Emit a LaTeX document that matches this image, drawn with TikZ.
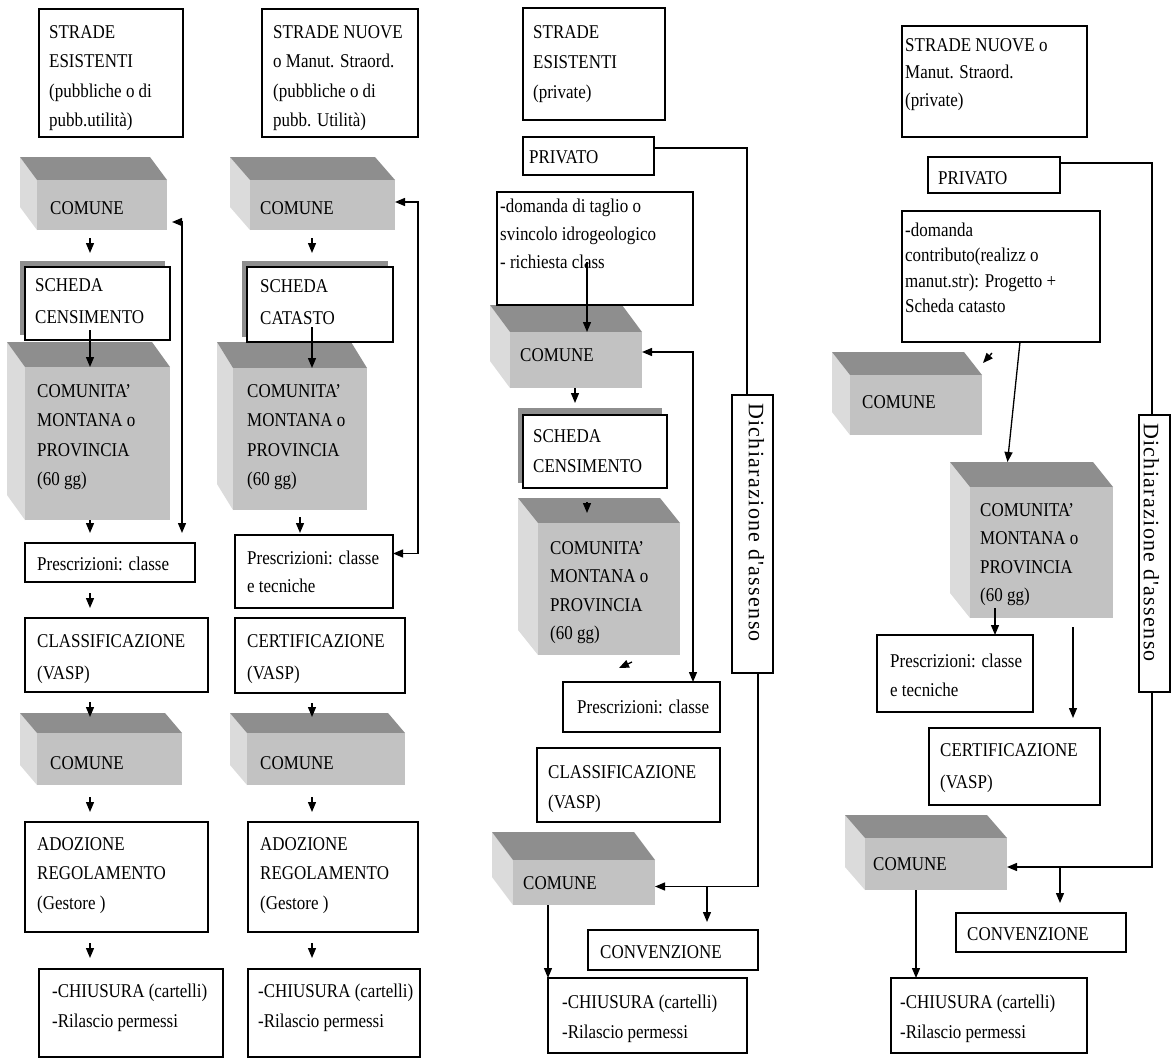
\documentclass[tikz,border=0pt]{standalone}
\usepackage{fontspec}
\setmainfont{Liberation Serif}[FakeStretch=0.87]
\newfontfamily\rotfont{Liberation Serif}[LetterSpace=6]
\usetikzlibrary{arrows.meta}
\definecolor{topgray}{RGB}{142,142,142}
\definecolor{frontgray}{RGB}{194,194,194}
\definecolor{sidegray}{RGB}{219,219,219}
\newcommand\cubebox[7]{%
 \fill[sidef] (#2,#3) -- ({#2+#6},{#3+#7}) -- ({#2+#6},#5) -- (#2,{#5-#7}) -- cycle;
 \fill[topf] (#2,#3) -- ({#4-#6},#3) -- (#4,{#3+#7}) -- ({#2+#6},{#3+#7}) -- cycle;
 \node[frontf, minimum width=#4pt-#2pt-#6pt, minimum height=#5pt-#3pt-#7pt] (#1) at ({#2+#6},{#3+#7}) {};
 \node[ghost, minimum width=#4pt-#2pt-#6pt, minimum height=#5pt-#3pt-#7pt] (#1-back) at (#2,#3) {};
}
\newcommand\bx[5]{\node[boxs, minimum width=#4pt, minimum height=#5pt] (#1) at (#2,#3) {};}
\newcommand\tx[6][]{\node[txt,#1] (#2) at ([xshift=#4pt,yshift=-#5pt]#3.north west) {#6};}
\begin{document}
\begin{tikzpicture}[x=1pt,y=-1pt,
  sidef/.style={fill=sidegray},
  topf/.style={fill=topgray},
  frontf/.style={anchor=north west, fill=frontgray, inner sep=0pt, outer sep=0pt},
  ghost/.style={anchor=north west, inner sep=0pt, outer sep=0pt},
  boxs/.style={anchor=north west, draw=black, line width=1.5pt, fill=white, inner sep=0pt, outer sep=0pt},
  txt/.style={anchor=north west, inner sep=0pt, align=left, font=\fontsize{19.5}{29.5}\selectfont},
  sp/.style={font=\fontsize{19.5}{#1}\selectfont},
  rot/.style={inner sep=0pt, rotate=-90, anchor=west, font=\rotfont\fontsize{22}{26}\selectfont},
  ln/.style={line width=1.3pt},
  arr/.style={line width=1.3pt, -{Triangle[length=10pt,width=8pt]}},
  arr2/.style={line width=1.3pt, {Triangle[length=10pt,width=8pt]}-{Triangle[length=10pt,width=8pt]}}]
\useasboundingbox (0,0) rectangle (1171,1060);
\fill[white] (0,0) rectangle (1171,1060);

% x positions of vertical connectors
\coordinate (ax1) at (90,0);   \coordinate (fb1) at (182,0);
\coordinate (ax2) at (312,0);  \coordinate (ax2b) at (300,0); \coordinate (fb2) at (418,0);
\coordinate (ax3a) at (587,0); \coordinate (ax3b) at (575,0); \coordinate (fb3) at (693,0);
\coordinate (v3a) at (747,0);  \coordinate (v3b) at (758,0);  \coordinate (v3c) at (707,0); \coordinate (v3d) at (548,0);
\coordinate (v4a) at (1152,0); \coordinate (v4b) at (1020,0); \coordinate (v4c) at (995,0);
\coordinate (v4d) at (1073,0); \coordinate (v4e) at (1060,0); \coordinate (v4f) at (916,0);

% ---------- 3D blocks ----------
\cubebox{c1}{20}{157}{167}{230}{17}{23}
\cubebox{m1}{7}{342}{170}{520}{18}{25}
\cubebox{c1b}{20}{713}{182}{785}{17}{20}
\cubebox{c2}{230}{157}{395}{230}{20}{23}
\cubebox{m2}{217}{342}{367}{510}{16}{26}
\cubebox{c2b}{230}{713}{405}{785}{17}{20}
\cubebox{c3}{490}{305}{642}{388}{20}{27}
\cubebox{m3}{518}{498}{680}{655}{20}{25}
\cubebox{c3b}{492}{832}{655}{905}{21}{28}
\cubebox{c4}{832}{352}{982}{435}{18}{23}
\cubebox{m4}{950}{462}{1113}{618}{20}{25}
\cubebox{c4b}{845}{815}{1007}{890}{20}{23}

% strips behind the SCHEDA boxes
\fill[topf] (20,261) rectangle (165,335);
\fill[topf] (242,261) rectangle (388,337);
\fill[topf] (518,408) rectangle (662,483);

% ---------- boxes ----------
\bx{t1}{39}{9}{144}{128}
\bx{s1}{25}{267}{145}{73}
\bx{p1}{25}{543}{170}{39}
\bx{k1}{25}{618}{183}{74}
\bx{a1}{25}{822}{183}{110}
\bx{h1}{39}{969}{184}{88}
\bx{t2}{262}{9}{156}{128}
\bx{s2}{247}{267}{146}{75}
\bx{p2}{235}{535}{158}{73}
\bx{k2}{235}{618}{170}{75}
\bx{a2}{248}{822}{170}{110}
\bx{h2}{248}{969}{172}{88}
\bx{t3}{523}{8}{142}{112}
\bx{pr3}{523}{137}{131}{38}
\bx{d3}{497}{192}{196}{113}
\bx{s3}{523}{415}{144}{73}
\bx{p3}{563}{682}{157}{50}
\bx{k3}{537}{748}{183}{74}
\bx{cv3}{588}{930}{170}{40}
\bx{h3}{548}{978}{199}{75}
\bx{dz3}{732}{395}{41}{278}
\bx{t4}{902}{26}{185}{111}
\bx{pr4}{928}{157}{132}{36}
\bx{d4}{902}{211}{198}{131}
\bx{p4}{877}{635}{156}{77}
\bx{k4}{929}{728}{171}{77}
\bx{cv4}{956}{913}{170}{39}
\bx{h4}{891}{978}{196}{75}
\bx{dz4}{1139}{415}{31}{277}

% ---------- texts ----------
\tx{t1-t}{t1}{10}{16}{STRADE\\ESISTENTI\\(pubbliche o di\\pubb.utilità)}
\tx{c1-t}{c1}{13}{21}{COMUNE}
\tx[sp=32]{s1-t}{s1}{10}{11}{SCHEDA\\CENSIMENTO}
\tx{m1-t}{m1}{12}{17}{COMUNITA'\\MONTANA o\\PROVINCIA\\(60 gg)}
\tx{p1-t}{p1}{12}{14}{Prescrizioni: classe}
\tx[sp=32]{k1-t}{k1}{12}{16}{CLASSIFICAZIONE\\(VASP)}
\tx{c1b-t}{c1b}{13}{23}{COMUNE}
\tx{a1-t}{a1}{12}{15}{ADOZIONE\\REGOLAMENTO\\(Gestore )}
\tx[sp=30]{h1-t}{h1}{13}{15}{-CHIUSURA (cartelli)\\-Rilascio permessi}

\tx{t2-t}{t2}{11}{16}{STRADE NUOVE\\o Manut. Straord.\\(pubbliche o di\\pubb. Utilità)}
\tx{c2-t}{c2}{10}{21}{COMUNE}
\tx[sp=32]{s2-t}{s2}{13}{12}{SCHEDA\\CATASTO}
\tx{m2-t}{m2}{14}{16}{COMUNITA'\\MONTANA o\\PROVINCIA\\(60 gg)}
\tx[sp=28]{p2-t}{p2}{12}{15.6}{Prescrizioni: classe\\e tecniche}
\tx[sp=32]{k2-t}{k2}{12}{16}{CERTIFICAZIONE\\(VASP)}
\tx{c2b-t}{c2b}{13}{23}{COMUNE}
\tx{a2-t}{a2}{12}{15}{ADOZIONE\\REGOLAMENTO\\(Gestore )}
\tx[sp=30]{h2-t}{h2}{10}{15}{-CHIUSURA (cartelli)\\-Rilascio permessi}

\tx[sp=30]{t3-t}{t3}{10}{17}{STRADE\\ESISTENTI\\(private)}
\tx{pr3-t}{pr3}{6}{13.6}{PRIVATO}
\tx[sp=28]{d3-t}{d3}{3}{7}{-domanda di taglio o\\svincolo idrogeologico\\- richiesta class}
\tx{c3-t}{c3}{10}{16}{COMUNE}
\tx[sp=30]{s3-t}{s3}{10}{14}{SCHEDA\\CENSIMENTO}
\tx[sp=28.5]{m3-t}{m3}{12}{18}{COMUNITA'\\MONTANA o\\PROVINCIA\\(60 gg)}
\tx{p3-t}{p3}{14}{18}{Prescrizioni: classe}
\tx[sp=30]{k3-t}{k3}{11}{17}{CLASSIFICAZIONE\\(VASP)}
\tx{c3b-t}{c3b}{10}{16}{COMUNE}
\tx{cv3-t}{cv3}{12}{15}{CONVENZIONE}
\tx[sp=30]{h3-t}{h3}{14}{17}{-CHIUSURA (cartelli)\\-Rilascio permessi}
\node[rot] (dz3-t) at ([xshift=4pt,yshift=-8pt]dz3.north) {Dichiarazione d'assenso};

\tx[sp=27.5]{t4-t}{t4}{3}{12}{STRADE NUOVE o\\Manut. Straord.\\(private)}
\tx{pr4-t}{pr4}{10}{14.6}{PRIVATO}
\tx[sp=25.5]{d4-t}{d4}{3}{11.6}{-domanda\\contributo(realizz o\\manut.str): Progetto +\\Scheda catasto}
\tx{c4-t}{c4}{12}{20}{COMUNE}
\tx[sp=28.5]{m4-t}{m4}{10}{16}{COMUNITA'\\MONTANA o\\PROVINCIA\\(60 gg)}
\tx{p4-t}{p4}{13}{18.6}{Prescrizioni: classe\\e tecniche}
\tx[sp=32]{k4-t}{k4}{11}{15.6}{CERTIFICAZIONE\\(VASP)}
\tx{c4b-t}{c4b}{8}{19}{COMUNE}
\tx{cv4-t}{cv4}{11}{14}{CONVENZIONE}
\tx[sp=30]{h4-t}{h4}{9}{17}{-CHIUSURA (cartelli)\\-Rilascio permessi}
\node[rot] (dz4-t) at ([xshift=-3pt,yshift=-8pt]dz4.north) {Dichiarazione d'assenso};

% ---------- connectors: column 1 ----------
\draw[arr, shorten <=8pt, shorten >=14pt] (c1.south -| ax1) -- (s1.north -| ax1);
\draw[arr, shorten <=-10pt] (s1.south -| ax1) -- (m1.north -| ax1);
\draw[arr, shorten >=10pt] (m1.south -| ax1) -- (p1.north -| ax1);
\draw[arr, shorten <=11pt, shorten >=10pt] (p1.south -| ax1) -- (k1.north -| ax1);
\draw[arr, shorten <=10pt, shorten >=16pt] (k1.south -| ax1) -- (c1b.north -| ax1);
\draw[arr, shorten <=12pt, shorten >=10pt] (c1b.south -| ax1) -- (a1.north -| ax1);
\draw[arr, shorten <=11pt, shorten >=11pt] (a1.south -| ax1) -- (h1.north -| ax1);
\coordinate (c1r) at ([yshift=-17pt]c1.east);
\draw[arr2, shorten <=10pt, shorten >=5pt] (p1.north -| fb1) -- (c1r -| fb1) -- (c1r);

% ---------- connectors: column 2 ----------
\draw[arr, shorten <=8pt, shorten >=14pt] (c2.south -| ax2) -- (s2.north -| ax2);
\draw[arr, shorten <=-15pt] (s2.south -| ax2) -- (m2.north -| ax2);
\draw[arr, shorten <=7pt, shorten >=2pt] (m2.south -| ax2b) -- (p2.north -| ax2b);
\draw[arr, shorten <=10pt, shorten >=16pt] (k2.south -| ax2) -- (c2b.north -| ax2);
\draw[arr, shorten <=12pt, shorten >=10pt] (c2b.south -| ax2) -- (a2.north -| ax2);
\draw[arr, shorten <=11pt, shorten >=11pt] (a2.south -| ax2) -- (h2.north -| ax2);
\coordinate (c2r) at ([yshift=3pt]c2.east);
\coordinate (p2r) at ([yshift=18pt]p2.east);
\draw[arr2] (c2r) -- (c2r -| fb2) -- (p2r -| fb2) -- (p2r);

% ---------- connectors: column 3 ----------
\draw[arr, shorten <=-43pt] (d3.south -| ax3a) -- (c3.north -| ax3a);
\draw[arr, shorten >=12pt] (c3.south -| ax3b) -- (s3.north -| ax3b);
\draw[arr, shorten <=14pt, shorten >=10pt] (s3.south -| ax3a) -- (m3.north -| ax3a);
\draw[arr] ([shift={(-48pt,-7pt)}]m3.south east) -- ([shift={(-61pt,-13pt)}]m3.south east);
\coordinate (c3r) at ([yshift=8pt]c3.east);
\draw[arr2] (p3.north -| fb3) -- (c3r -| fb3) -- (c3r);
\coordinate (pr3r) at ([yshift=8pt]pr3.east);
\draw[ln] (pr3r) -- (pr3r -| v3a) -- (dz3.north -| v3a);
\coordinate (c3br) at ([yshift=-4pt]c3b.east);
\draw[arr] (dz3.south -| v3b) -- (c3br -| v3b) -- (c3br);
\draw[arr, shorten >=8pt] (c3br -| v3c) -- (cv3.north -| v3c);
\draw[arr] (c3b.south -| v3d) -- (h3.north -| v3d);

% ---------- connectors: column 4 ----------
\coordinate (pr4r) at ([yshift=12pt]pr4.east);
\draw[ln] (pr4r) -- (pr4r -| v4a) -- (dz4.north -| v4a);
\coordinate (c4br) at ([yshift=-3pt]c4b.east);
\draw[arr] (dz4.south -| v4a) -- (c4br -| v4a) -- (c4br);
\draw[arr, shorten >=10pt] (c4br -| v4e) -- (cv4.north -| v4e);
\draw[arr] (c4b.south -| v4f) -- (h4.north -| v4f);
\draw[arr] (d4.south -| v4b) -- ([xshift=-14pt]m4-back.north);
\draw[arr] ([shift={(10pt,22pt)}]c4.north east) -- ([shift={(1pt,12pt)}]c4.north east);
\draw[arr, shorten <=-10pt] (m4.south -| v4c) -- (p4.north -| v4c);
\draw[arr, shorten <=9pt, shorten >=10pt] (m4.south -| v4d) -- (k4.north -| v4d);
\end{tikzpicture}
\end{document}
